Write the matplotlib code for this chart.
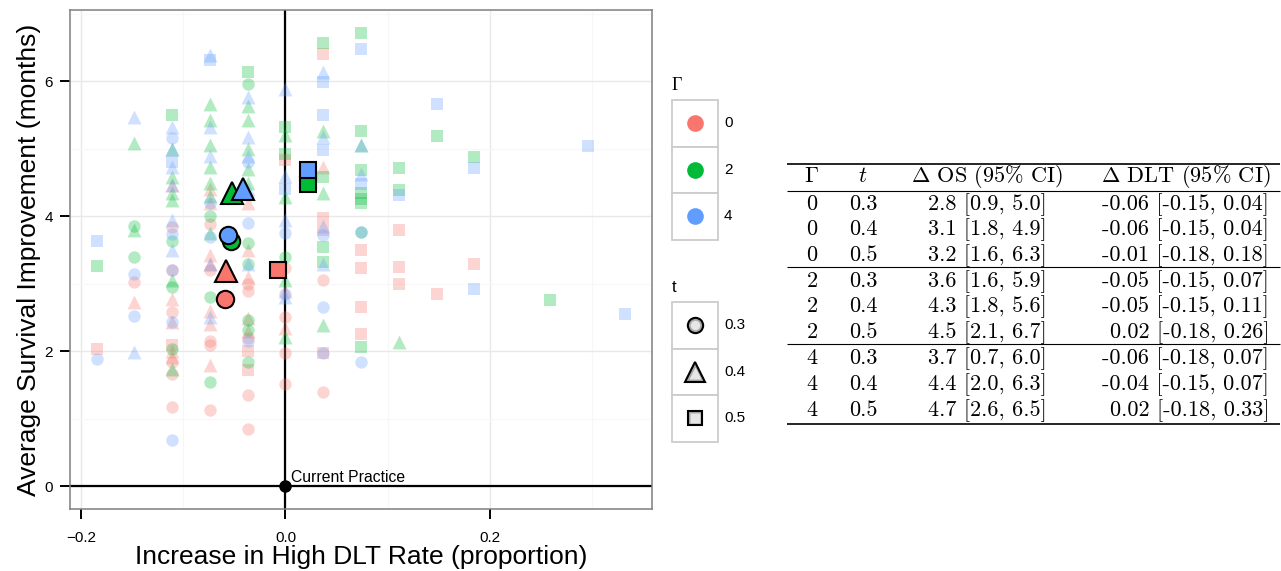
import matplotlib
matplotlib.use("Agg")
import matplotlib.pyplot as plt
from matplotlib.patches import Rectangle
import numpy as np

plt.rcParams['mathtext.fontset'] = 'cm'

# ---------------- data ----------------
gamma_levels = ["0", "2", "4"]
t_levels = ["0.3", "0.4", "0.5"]
gamma_colors = ["#F8766D", "#00BA38", "#619CFF"]
t_markers = ["o", "^", "s"]

# individual scenario results (faint points): (x = increase in high DLT rate, y = survival improvement)
g0_t03_x = [-0.148, -0.111, -0.111, -0.111, -0.111, -0.111, -0.111, -0.074, -0.074, -0.074, -0.074, -0.074,
            -0.037, -0.037, -0.037, -0.037, -0.037, 0.0, 0.0, 0.0, 0.0, 0.037, 0.037]
g0_t03_y = [3.02, 3.84, 3.20, 2.58, 1.84, 1.67, 1.18, 3.89, 3.20, 2.16, 2.10, 1.13,
            2.90, 2.20, 1.35, 0.85, 3.00, 2.51, 1.97, 1.52, 3.23, 3.05, 1.40]
g0_t04_x = [-0.148, -0.111, -0.111, -0.111, -0.111, -0.111, -0.074, -0.074, -0.074, -0.074, -0.074, -0.074,
            -0.074, -0.037, -0.037, -0.037, -0.037, -0.037, 0.0, 0.0, 0.037]
g0_t04_y = [2.73, 4.46, 2.78, 2.43, 1.92, 2.00, 4.40, 4.20, 3.42, 3.30, 2.41, 1.79,
            2.60, 3.50, 3.10, 2.50, 2.30, 4.20, 2.35, 2.90, 4.73]
g0_t05_x = [-0.185, -0.111, -0.037, -0.037, 0.0, 0.037, 0.037, 0.037, 0.037, 0.074, 0.074, 0.074, 0.074,
            0.111, 0.111, 0.111, 0.148, 0.185]
g0_t05_y = [2.04, 2.09, 1.72, 2.00, 4.83, 6.41, 3.97, 3.79, 1.97, 3.50, 3.24, 2.66, 2.26,
            3.79, 3.25, 2.99, 2.85, 3.30]

g2_t03_x = [-0.148, -0.148, -0.111, -0.111, -0.111, -0.074, -0.074, -0.074, -0.037, -0.037, -0.037, -0.037,
            -0.037, -0.037, 0.0, 0.074]
g2_t03_y = [3.86, 3.39, 3.64, 2.95, 2.04, 2.80, 1.55, 4.00, 5.96, 2.46, 2.31, 1.84,
            3.60, 3.30, 3.40, 3.77]
g2_t04_x = [-0.148, -0.148, -0.111, -0.111, -0.111, -0.111, -0.111, -0.111, -0.074, -0.074, -0.074, -0.074,
            -0.074, -0.074, -0.074, -0.037, -0.037, -0.037, -0.037, -0.037, 0.0, 0.0, 0.0, 0.0,
            0.037, 0.037, 0.037, 0.074, 0.111]
g2_t04_y = [5.08, 3.79, 5.00, 4.58, 4.34, 4.24, 3.05, 1.74, 5.67, 5.42, 5.05, 4.73,
            4.50, 4.30, 3.75, 5.64, 5.42, 5.00, 4.70, 4.50, 5.20, 4.29, 3.05, 2.21,
            5.27, 4.34, 2.39, 5.05, 2.14]
g2_t05_x = [-0.185, -0.111, -0.037, 0.0, 0.0, 0.037, 0.037, 0.037, 0.037, 0.074, 0.074, 0.074, 0.074,
            0.074, 0.074, 0.074, 0.111, 0.111, 0.148, 0.185, 0.259]
g2_t05_y = [3.26, 5.50, 6.14, 5.32, 4.93, 6.56, 4.58, 3.55, 3.32, 6.72, 5.27, 4.68, 4.34,
            4.25, 4.19, 2.06, 4.72, 4.39, 5.19, 4.88, 2.76]

g4_t03_x = [-0.185, -0.148, -0.148, -0.111, -0.111, -0.111, -0.111, -0.111, -0.074, -0.074, -0.037, -0.037,
            -0.037, 0.0, 0.0, 0.037, 0.037, 0.037, 0.074, 0.074]
g4_t03_y = [1.89, 3.15, 2.52, 5.16, 3.74, 3.20, 2.43, 0.68, 3.69, 4.20, 2.16, 4.80,
            3.90, 3.75, 2.85, 3.72, 2.66, 1.97, 3.77, 1.84]
g4_t04_x = [-0.148, -0.148, -0.111, -0.111, -0.111, -0.111, -0.111, -0.111, -0.074, -0.074, -0.074, -0.074,
            -0.074, -0.037, -0.037, -0.037, -0.037, -0.037, 0.0, 0.0, 0.0, 0.0, 0.037, 0.037,
            0.037, 0.037, 0.074, 0.074]
g4_t04_y = [5.47, 1.99, 5.32, 5.00, 4.73, 4.46, 3.94, 3.50, 6.39, 5.32, 4.90, 2.51,
            3.30, 5.77, 5.17, 4.90, 4.40, 3.30, 5.89, 4.60, 3.94, 2.80, 6.14, 5.17,
            3.85, 3.30, 5.05, 4.63]
g4_t05_x = [-0.185, -0.111, -0.074, 0.0, 0.037, 0.037, 0.037, 0.074, 0.074, 0.111, 0.148, 0.185, 0.185,
            0.296, 0.333]
g4_t05_y = [3.64, 4.80, 6.31, 4.40, 5.99, 5.50, 4.98, 6.48, 4.48, 4.31, 5.66, 4.71, 2.93,
            5.04, 2.55]

scen_x = [[g0_t03_x, g0_t04_x, g0_t05_x], [g2_t03_x, g2_t04_x, g2_t05_x], [g4_t03_x, g4_t04_x, g4_t05_x]]
scen_y = [[g0_t03_y, g0_t04_y, g0_t05_y], [g2_t03_y, g2_t04_y, g2_t05_y], [g4_t03_y, g4_t04_y, g4_t05_y]]

# averages (large outlined points)
mean_dlt = [[-0.059, -0.058, -0.0075], [-0.053, -0.052, 0.0225], [-0.056, -0.042, 0.0225]]
mean_os = [[2.77, 3.19, 3.21], [3.63, 4.34, 4.48], [3.73, 4.41, 4.68]]

# table values
tab_gamma = ["0", "0", "0", "2", "2", "2", "4", "4", "4"]
tab_t = ["0.3", "0.4", "0.5", "0.3", "0.4", "0.5", "0.3", "0.4", "0.5"]
os_est = [2.8, 3.1, 3.2, 3.6, 4.3, 4.5, 3.7, 4.4, 4.7]
os_lo = [0.9, 1.8, 1.6, 1.6, 1.8, 2.1, 0.7, 2.0, 2.6]
os_hi = [5.0, 4.9, 6.3, 5.9, 5.6, 6.7, 6.0, 6.3, 6.5]
dlt_est = [-0.06, -0.06, -0.01, -0.05, -0.05, 0.02, -0.06, -0.04, 0.02]
dlt_lo = [-0.15, -0.15, -0.18, -0.15, -0.15, -0.18, -0.18, -0.15, -0.18]
dlt_hi = [0.04, 0.04, 0.18, 0.07, 0.11, 0.26, 0.07, 0.07, 0.33]

x_ticks = [-0.2, 0.0, 0.2]
x_ticklabels = ["\u22120.2", "0.0", "0.2"]
y_ticks = [0, 2, 4, 6]
y_ticklabels = ["0", "2", "4", "6"]

# ---------------- figure ----------------
W, H = 1281, 571
fig = plt.figure(figsize=(W / 100, H / 100), dpi=100)
L, R, T, B = 70, 652, 10, 509
ax = fig.add_axes([L / W, (H - B) / H, (R - L) / W, (B - T) / H])
sans = "Liberation Sans"

ax.set_xlim(-0.211, 0.359)
ax.set_ylim(-0.336, 7.056)
ax.set_xticks([-0.1, 0.1, 0.3], minor=True)
ax.set_yticks([1, 3, 5, 7], minor=True)
ax.set_xticks(x_ticks)
ax.set_xticklabels(x_ticklabels, fontsize=11, family=sans)
ax.set_yticks(y_ticks)
ax.set_yticklabels(y_ticklabels, fontsize=11, family=sans)
ax.tick_params(which="major", length=7.5, width=1.4, color="black")
ax.tick_params(axis="x", which="major", pad=8)
ax.tick_params(axis="y", which="major", pad=5)
ax.tick_params(which="minor", length=0)
ax.grid(which="major", color="#e8e8e8", lw=1.0, zorder=0)
ax.grid(which="minor", color="#f7f7f7", lw=0.8, zorder=0)
ax.set_axisbelow(True)
for s in ax.spines.values():
    s.set_color("#7f7f7f")
    s.set_linewidth(1.1)

ax.axvline(0, color="black", lw=1.6, zorder=1)
ax.axhline(0, color="black", lw=1.6, zorder=1)
ax.plot([0], [0], "o", color="black", ms=8, zorder=5)
ax.text(0.005, 0.07, "Current Practice", fontsize=11.3, family=sans, ha="left", va="baseline")

faint_size = {"o": 80, "^": 100, "s": 70}
for gi in range(3):
    for ti in range(3):
        m = t_markers[ti]
        ax.scatter(scen_x[gi][ti], scen_y[gi][ti], s=faint_size[m], marker=m,
                   color=gamma_colors[gi], alpha=0.3, linewidths=0, zorder=2)

big_ms = {"o": 12.5, "^": 16, "s": 11.5}
for gi in range(3):
    for ti in range(3):
        m = t_markers[ti]
        ax.plot([mean_dlt[gi][ti]], [mean_os[gi][ti]], marker=m, ms=big_ms[m],
                mfc=gamma_colors[gi], mec="black", mew=1.5, ls="none", zorder=6)

ax.set_xlabel("Increase in High DLT Rate (proportion)", fontsize=19, family=sans, labelpad=0)
ax.set_ylabel("Average Survival Improvement (months)", fontsize=19, family=sans, labelpad=2)

# ---------------- overlay (legend + table) in pixel coords ----------------
ov = fig.add_axes([0, 0, 1, 1])
ov.set_xlim(0, W)
ov.set_ylim(H, 0)
ov.axis("off")

# legend: Gamma
ov.text(672, 86, "\u0393", fontsize=13, family="Liberation Serif", ha="left", va="center")
key_x0, key_w, key_h = 672, 46, 46.5
for i, lab in enumerate(gamma_levels):
    y0 = 100 + i * key_h
    ov.add_patch(Rectangle((key_x0, y0), key_w, key_h, fc="white", ec="#cccccc", lw=1.3))
    ov.plot([key_x0 + key_w / 2], [y0 + key_h / 2], "o", ms=12, color=gamma_colors[i], mew=0)
    ov.text(724, y0 + key_h / 2, lab, fontsize=11, family=sans, ha="left", va="center")

# legend: t
ov.text(672, 287, "t", fontsize=12, family=sans, ha="left", va="center")
leg_ms = {"o": 11, "^": 14, "s": 10.5}
for i, lab in enumerate(t_levels):
    y0 = 302 + i * key_h
    m = t_markers[i]
    cx, cy = key_x0 + key_w / 2, y0 + key_h / 2
    ov.add_patch(Rectangle((key_x0, y0), key_w, key_h, fc="white", ec="#cccccc", lw=1.3))
    ov.plot([cx], [cy], marker=m, ms=leg_ms[m], mfc="#a8a8a8", mec="black", mew=1.5, ls="none")
    ov.plot([cx], [cy + (1.2 if m == "^" else 0)], marker=m, ms=leg_ms[m] * 0.62, mfc="#e6e6e6",
            mec="none", ls="none")
    ov.text(724, cy, lab, fontsize=11, family=sans, ha="left", va="center")

# table
tfs = 16
serif = "cmr10"
tx0, tx1 = 787, 1280
for yy, lw in [(164, 1.2), (190.7, 0.8), (266.7, 0.8), (344.3, 0.8), (424, 1.2)]:
    ov.plot([tx0, tx1], [yy, yy], color="black", lw=lw, solid_capstyle="butt")

hdr_base = 181.5
ov.text(812, hdr_base, r"$\Gamma$", fontsize=tfs, ha="center", va="baseline")
ov.text(863, hdr_base, r"$t$", fontsize=tfs, ha="center", va="baseline")
ov.text(987, hdr_base, r"$\Delta$ OS (95% CI)", fontsize=tfs, family=serif, ha="center", va="baseline")
ov.text(1186, hdr_base, r"$\Delta$ DLT (95% CI)", fontsize=tfs, family=serif, ha="center", va="baseline")

row_base = [210.0, 235.3, 260.7, 286.7, 312.3, 338.3, 364.0, 390.0, 416.0]
for i in range(len(tab_gamma)):
    yb = row_base[i]
    ov.text(812, yb, tab_gamma[i], fontsize=tfs, family=serif, ha="center", va="baseline")
    ov.text(863, yb, tab_t[i], fontsize=tfs, family=serif, ha="center", va="baseline")
    ov.text(1047, yb, f"{os_est[i]:.1f} [{os_lo[i]:.1f}, {os_hi[i]:.1f}]", fontsize=tfs,
            family=serif, ha="right", va="baseline")
    ov.text(1269, yb, f"{dlt_est[i]:.2f} [{dlt_lo[i]:.2f}, {dlt_hi[i]:.2f}]", fontsize=tfs,
            family=serif, ha="right", va="baseline")

fig.savefig("out.png", dpi=100)
